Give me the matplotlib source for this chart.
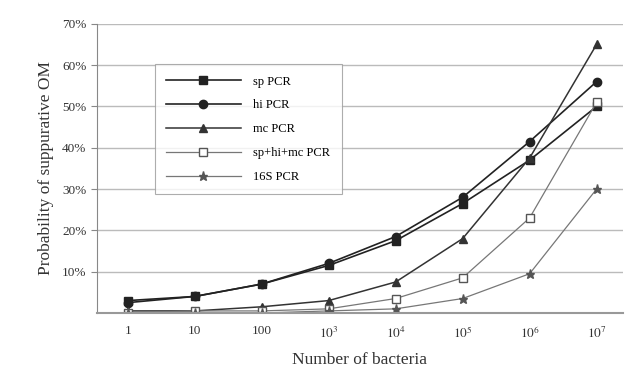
#!/usr/bin/env python3
"""Probability of suppurative OM against number of bacteria, per PCR assay."""

import matplotlib
matplotlib.use("Agg")
import matplotlib.pyplot as plt

plt.rcParams["font.family"] = ["Liberation Serif", "DejaVu Serif"]
plt.rcParams["mathtext.fontset"] = "stix"

# data
bacteria = ["1", "10", "100", "$10^3$", "$10^4$", "$10^5$", "$10^6$", "$10^7$"]
sp_pcr = [3.0, 4.0, 7.0, 11.5, 17.5, 26.5, 37.0, 50.0]
hi_pcr = [2.5, 4.0, 7.0, 12.0, 18.5, 28.0, 41.5, 56.0]
mc_pcr = [0.5, 0.5, 1.5, 3.0, 7.5, 18.0, 37.5, 65.0]
combo_pcr = [0.0, 0.5, 0.5, 1.0, 3.5, 8.5, 23.0, 51.0]
s16_pcr = [0.0, 0.0, 0.0, 0.5, 1.0, 3.5, 9.5, 30.0]
y_ticks = [10, 20, 30, 40, 50, 60, 70]

fig = plt.figure(figsize=(6.29, 3.78), dpi=100)
ax = fig.add_axes([0.154, 0.172, 0.836, 0.765])

x = list(range(len(bacteria)))
ax.plot(x, sp_pcr, color="#222222", lw=1.2, marker="s", ms=5.5, label="sp PCR")
ax.plot(x, hi_pcr, color="#222222", lw=1.2, marker="o", ms=6, label="hi PCR")
ax.plot(x, mc_pcr, color="#333333", lw=1.1, marker="^", ms=6, label="mc PCR")
ax.plot(x, combo_pcr, color="#777777", lw=0.9, marker="s", ms=5.5,
        mfc="white", mec="#555555", label="sp+hi+mc PCR")
ax.plot(x, s16_pcr, color="#777777", lw=0.9, marker="*", ms=6.5,
        mfc="#555555", mec="#555555", label="16S PCR")

ax.set_xlim(-0.46, 7.39)
ax.set_ylim(0, 70)
ax.set_xticks(x)
ax.set_xticklabels(bacteria, fontsize=9.5, color="#333333")
ax.set_yticks(y_ticks)
ax.set_yticklabels([f"{v}%" for v in y_ticks], fontsize=9.5, color="#333333")
ax.tick_params(axis="x", length=0, pad=9)
ax.tick_params(axis="y", length=4, color="#888888", direction="out")

ax.yaxis.grid(True, color="#bbbbbb", lw=1.0)
ax.set_axisbelow(True)
for side in ["top", "right"]:
    ax.spines[side].set_visible(False)
ax.spines["left"].set_color("#888888")
ax.spines["bottom"].set_color("#999999")
ax.spines["bottom"].set_linewidth(1.5)

ax.set_xlabel("Number of bacteria", fontsize=12.5, color="#333333", labelpad=8)
ax.set_ylabel("Probability of suppurative OM", fontsize=12.5, color="#333333", labelpad=6)

leg = ax.legend(loc="upper left", bbox_to_anchor=(0.11, 0.86), borderaxespad=0,
                fontsize=9, frameon=True, fancybox=False, edgecolor="#999999",
                labelspacing=0.95, handlelength=6, borderpad=0.9, handletextpad=1.0)
leg.get_frame().set_linewidth(0.8)

fig.savefig("out.png", dpi=100)
